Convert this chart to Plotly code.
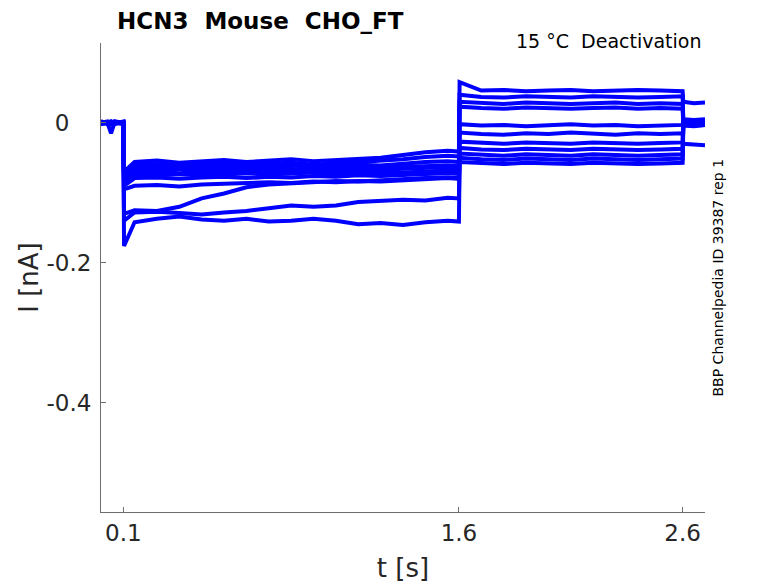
import plotly.graph_objects as go

# sample times (s) shared by all sweeps
t_s = [0.0, 0.03, 0.045, 0.06, 0.1,
       0.103, 0.15, 0.25, 0.35, 0.45, 0.55, 0.65, 0.75, 0.85, 0.95, 1.05, 1.15, 1.25, 1.35, 1.45, 1.55, 1.6,
       1.603, 1.7, 1.8, 1.9, 2.0, 2.1, 2.2, 2.3, 2.4, 2.5, 2.6,
       2.603, 2.65, 2.7]

# current of each sweep (nA)
sweep_01 = [0.002, -0.001, -0.015, 0.0, 0.001,
            -0.07, -0.056, -0.054, -0.057, -0.055, -0.053, -0.056, -0.054, -0.052, -0.055, -0.053, -0.051, -0.05, -0.046, -0.042, -0.04, -0.041,
            0.058, 0.046, 0.047, 0.045, 0.046, 0.047, 0.045, 0.046, 0.047, 0.046, 0.045,
            0.03, 0.028, 0.029]
sweep_02 = [0.0, 0.002, -0.001, 0.001, -0.001,
            -0.075, -0.06, -0.059, -0.061, -0.06, -0.058, -0.06, -0.059, -0.057, -0.06, -0.058, -0.057, -0.055, -0.052, -0.049, -0.047, -0.048,
            0.04, 0.037, 0.036, 0.038, 0.037, 0.036, 0.038, 0.037, 0.036, 0.037, 0.038,
            0.005, 0.004, 0.005]
sweep_03 = [-0.001, 0.001, 0.0, 0.002, 0.0,
            -0.078, -0.064, -0.063, -0.065, -0.063, -0.062, -0.064, -0.062, -0.061, -0.063, -0.062, -0.06, -0.061, -0.058, -0.056, -0.055, -0.056,
            0.03, 0.028, 0.027, 0.029, 0.028, 0.027, 0.028, 0.029, 0.027, 0.028, 0.027,
            0.001, 0.0, 0.001]
sweep_04 = [0.001, -0.002, 0.001, -0.001, 0.002,
            -0.08, -0.067, -0.068, -0.066, -0.068, -0.066, -0.067, -0.065, -0.066, -0.067, -0.065, -0.066, -0.064, -0.063, -0.062, -0.061, -0.062,
            0.023, 0.021, 0.02, 0.022, 0.021, 0.02, 0.021, 0.022, 0.02, 0.021, 0.02,
            -0.002, -0.003, -0.002]
sweep_05 = [-0.002, 0.0, 0.002, -0.001, 0.0,
            -0.085, -0.071, -0.07, -0.072, -0.07, -0.071, -0.069, -0.07, -0.068, -0.069, -0.07, -0.068, -0.067, -0.066, -0.064, -0.063, -0.064,
            -0.002, -0.004, -0.003, -0.005, -0.004, -0.002, -0.004, -0.003, -0.005, -0.004, -0.003,
            0.003, 0.002, 0.003]
sweep_06 = [0.001, 0.0, -0.002, 0.002, -0.001,
            -0.088, -0.074, -0.075, -0.073, -0.075, -0.074, -0.072, -0.074, -0.073, -0.071, -0.073, -0.072, -0.07, -0.071, -0.069, -0.068, -0.069,
            -0.014, -0.016, -0.017, -0.015, -0.016, -0.014, -0.016, -0.017, -0.015, -0.016, -0.015,
            -0.03, -0.031, -0.032]
sweep_07 = [0.0, 0.001, 0.001, -0.002, 0.001,
            -0.09, -0.079, -0.078, -0.08, -0.078, -0.077, -0.079, -0.077, -0.078, -0.076, -0.077, -0.075, -0.076, -0.074, -0.073, -0.072, -0.073,
            -0.027, -0.029, -0.03, -0.028, -0.029, -0.03, -0.028, -0.029, -0.03, -0.029, -0.028,
            0.001, 0.0, 0.002]
sweep_08 = [-0.001, 0.0, 0.001, 0.001, -0.002,
            -0.095, -0.09, -0.089, -0.091, -0.088, -0.087, -0.086, -0.085, -0.086, -0.084, -0.085, -0.083, -0.084, -0.082, -0.08, -0.079, -0.08,
            -0.036, -0.038, -0.039, -0.037, -0.038, -0.039, -0.037, -0.038, -0.039, -0.038, -0.037,
            -0.003, -0.004, -0.003]
sweep_09 = [0.002, -0.001, 0.0, 0.001, 0.0,
            -0.13, -0.125, -0.126, -0.12, -0.108, -0.101, -0.092, -0.088, -0.086, -0.084, -0.083, -0.084, -0.082, -0.08, -0.079, -0.078, -0.079,
            -0.044, -0.046, -0.047, -0.045, -0.046, -0.047, -0.045, -0.046, -0.047, -0.046, -0.045,
            0.002, 0.001, 0.002]
sweep_10 = [0.0, 0.001, -0.001, 0.0, 0.001,
            -0.14, -0.128, -0.127, -0.129, -0.131, -0.128, -0.126, -0.122, -0.118, -0.12, -0.118, -0.113, -0.112, -0.11, -0.111, -0.107, -0.108,
            -0.05, -0.052, -0.053, -0.051, -0.052, -0.053, -0.051, -0.052, -0.053, -0.052, -0.051,
            -0.001, -0.002, 0.0]
sweep_11 = [-0.001, 0.0, 0.002, 0.0, -0.001,
            -0.176, -0.142, -0.137, -0.134, -0.138, -0.14, -0.137, -0.141, -0.14, -0.137, -0.14, -0.145, -0.143, -0.146, -0.142, -0.14, -0.141,
            -0.056, -0.058, -0.059, -0.057, -0.058, -0.059, -0.057, -0.058, -0.059, -0.058, -0.057,
            -0.004, -0.005, -0.003]

sweeps = [sweep_01, sweep_02, sweep_03, sweep_04, sweep_05, sweep_06,
          sweep_07, sweep_08, sweep_09, sweep_10, sweep_11]

x_ticks = [0.1, 1.6, 2.6]
y_ticks = [-0.4, -0.2, 0]
# the "0" label sits a bit left of the others in the original
y_ticktext = ["-0.4", "-0.2", "0\u2007\u2008"]

fig = go.Figure()
for s in sweeps:
    fig.add_trace(go.Scatter(x=t_s, y=s, mode="lines",
                             line=dict(color="#0000ff", width=4),
                             showlegend=False, hoverinfo="skip"))

# margins allow for the 8px page margin round the plot div
axis_col = "rgb(110,110,110)"
fig.update_layout(
    width=778, height=583,
    margin=dict(l=93, r=81, t=35, b=79),
    paper_bgcolor="white", plot_bgcolor="white",
    font=dict(family="DejaVu Sans", color="rgb(38,38,38)"),
)
fig.update_xaxes(range=[0, 2.7], tickvals=x_ticks, ticktext=[str(v) for v in x_ticks],
                 ticks="inside", ticklen=5, tickcolor=axis_col,
                 showline=True, linecolor=axis_col, linewidth=1,
                 showgrid=False, zeroline=False, tickfont=dict(size=23),
                 title=dict(text="t [s]", font=dict(size=26), standoff=14))
fig.update_yaxes(range=[-0.556, 0.114], tickvals=y_ticks, ticktext=y_ticktext,
                 ticks="inside", ticklen=5, tickcolor=axis_col, ticklabelstandoff=4,
                 showline=True, linecolor=axis_col, linewidth=1,
                 showgrid=False, zeroline=False, tickfont=dict(size=23),
                 title=dict(text="I [nA]", font=dict(size=26), standoff=0))

fig.add_annotation(text="<b>HCN3\u00a0 Mouse\u00a0 CHO_FT</b>", xref="paper", yref="paper",
                   x=0.023, y=1.0, xanchor="left", yanchor="bottom", yshift=7,
                   showarrow=False, font=dict(size=23, color="black"))
fig.add_annotation(text="15 °C\u00a0 Deactivation", xref="paper", yref="paper",
                   x=0.997, y=1.0, xanchor="right", yanchor="middle", yshift=2,
                   showarrow=False, font=dict(size=19, color="black"))
fig.add_annotation(text="BBP Channelpedia ID 39387 rep 1", xref="paper", yref="y",
                   x=1.0, y=-0.221, xanchor="left", yanchor="middle", xshift=2,
                   textangle=-90, showarrow=False, font=dict(size=14, color="black"))

fig.write_html("out.html", config={"displayModeBar": False})
